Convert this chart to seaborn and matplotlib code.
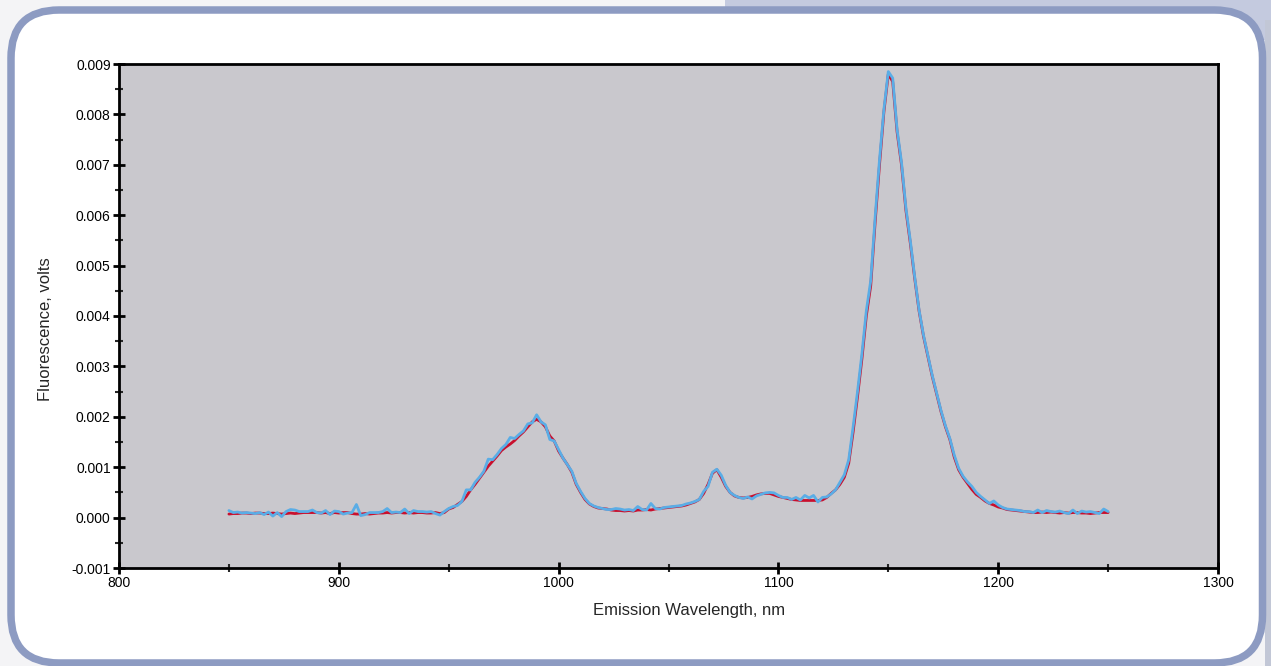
import numpy as np
import pandas as pd
import matplotlib
matplotlib.use("Agg")
import matplotlib.pyplot as plt
import seaborn as sns
from matplotlib.patches import FancyBboxPatch, Rectangle
from matplotlib.ticker import MultipleLocator, FormatStrFormatter

# longitudes de onda (nm), paso de 2 nm
wavelength = np.arange(850, 1252, 2)

# señal suavizada (roja), en mV
red_mv = [
    0.07, 0.08, 0.08, 0.09, 0.09, 0.08, 0.09, 0.09, 0.08, 0.08,   # 850
    0.09, 0.08, 0.07, 0.08, 0.09, 0.08, 0.09, 0.10, 0.10, 0.10,   # 870
    0.10, 0.09, 0.10, 0.08, 0.10, 0.09, 0.10, 0.10, 0.08, 0.07,   # 890
    0.07, 0.08, 0.07, 0.08, 0.09, 0.09, 0.10, 0.09, 0.10, 0.10,   # 910
    0.09, 0.10, 0.09, 0.10, 0.10, 0.09, 0.09, 0.10, 0.08, 0.10,   # 930
    0.17, 0.20, 0.26, 0.32, 0.42, 0.55, 0.66, 0.78, 0.90, 1.02,   # 950
    1.12, 1.22, 1.33, 1.40, 1.46, 1.53, 1.62, 1.70, 1.80, 1.90,   # 970
    1.95, 1.90, 1.80, 1.62, 1.52, 1.32, 1.18, 1.05, 0.90, 0.66,   # 990
    0.50, 0.36, 0.27, 0.22, 0.19, 0.18, 0.17, 0.15, 0.14, 0.14,   # 1010
    0.13, 0.14, 0.13, 0.15, 0.15, 0.16, 0.15, 0.17, 0.18, 0.19,   # 1030
    0.20, 0.21, 0.22, 0.23, 0.25, 0.28, 0.31, 0.36, 0.48, 0.66,   # 1050
    0.88, 0.95, 0.80, 0.62, 0.50, 0.43, 0.40, 0.39, 0.40, 0.42,   # 1070
    0.45, 0.47, 0.48, 0.48, 0.45, 0.42, 0.40, 0.38, 0.36, 0.35,   # 1090
    0.34, 0.34, 0.34, 0.34, 0.34, 0.35, 0.40, 0.48, 0.55, 0.66,   # 1110
    0.80, 1.08, 1.70, 2.40, 3.15, 4.00, 4.60, 5.85, 7.00, 8.05,   # 1130
    8.80, 8.65, 7.65, 7.00, 6.10, 5.45, 4.75, 4.10, 3.60, 3.20,   # 1150
    2.80, 2.45, 2.10, 1.80, 1.55, 1.20, 0.95, 0.80, 0.68, 0.56,   # 1170
    0.46, 0.40, 0.33, 0.28, 0.25, 0.21, 0.19, 0.16, 0.15, 0.14,   # 1190
    0.13, 0.12, 0.11, 0.10, 0.10, 0.11, 0.10, 0.11, 0.10, 0.09,   # 1210
    0.10, 0.09, 0.10, 0.10, 0.09, 0.09, 0.08, 0.09, 0.10, 0.10,   # 1230
    0.10,                                                         # 1250
]

# señal cruda (azul), en mV
blue_mv = [
    0.14, 0.10, 0.11, 0.09, 0.10, 0.09, 0.08, 0.10, 0.06, 0.11,   # 850
    0.03, 0.10, 0.02, 0.12, 0.16, 0.15, 0.12, 0.12, 0.12, 0.15,   # 870
    0.10, 0.09, 0.14, 0.06, 0.13, 0.12, 0.07, 0.09, 0.10, 0.26,   # 890
    0.04, 0.06, 0.10, 0.10, 0.10, 0.12, 0.18, 0.10, 0.11, 0.10,   # 910
    0.17, 0.08, 0.14, 0.12, 0.12, 0.11, 0.12, 0.08, 0.05, 0.12,   # 930
    0.18, 0.22, 0.24, 0.32, 0.55, 0.55, 0.70, 0.80, 0.92, 1.16,   # 950
    1.15, 1.25, 1.37, 1.45, 1.59, 1.57, 1.65, 1.72, 1.86, 1.88,   # 970
    2.04, 1.90, 1.84, 1.55, 1.52, 1.35, 1.18, 1.05, 0.92, 0.68,   # 990
    0.52, 0.38, 0.28, 0.23, 0.20, 0.18, 0.16, 0.16, 0.18, 0.17,   # 1010
    0.15, 0.16, 0.14, 0.22, 0.16, 0.15, 0.28, 0.18, 0.17, 0.20,   # 1030
    0.21, 0.22, 0.23, 0.24, 0.27, 0.29, 0.32, 0.36, 0.52, 0.62,   # 1050
    0.90, 0.96, 0.84, 0.64, 0.50, 0.44, 0.40, 0.38, 0.41, 0.37,   # 1070
    0.43, 0.46, 0.49, 0.50, 0.49, 0.44, 0.40, 0.40, 0.36, 0.40,   # 1090
    0.35, 0.44, 0.39, 0.44, 0.31, 0.40, 0.41, 0.47, 0.55, 0.70,   # 1110
    0.85, 1.15, 1.80, 2.50, 3.25, 4.10, 4.70, 5.95, 7.10, 8.10,   # 1130
    8.85, 8.72, 7.70, 7.05, 6.15, 5.50, 4.78, 4.12, 3.62, 3.22,   # 1150
    2.82, 2.47, 2.12, 1.82, 1.57, 1.24, 0.98, 0.82, 0.71, 0.62,   # 1170
    0.50, 0.42, 0.35, 0.28, 0.33, 0.25, 0.20, 0.17, 0.16, 0.15,   # 1190
    0.14, 0.12, 0.12, 0.10, 0.15, 0.10, 0.14, 0.12, 0.11, 0.13,   # 1210
    0.10, 0.08, 0.15, 0.08, 0.13, 0.11, 0.12, 0.10, 0.08, 0.17,   # 1230
    0.12,                                                         # 1250
]

series_names = ["suavizada", "cruda"]
series_colors = ["#c8102e", "#5aade6"]

df = pd.DataFrame({
    "wavelength": np.concatenate([wavelength, wavelength]),
    "volts": np.array(red_mv + blue_mv) / 1000.0,
    "serie": [series_names[0]] * len(red_mv) + [series_names[1]] * len(blue_mv),
})

sns.set_theme(style="ticks")
plt.rcParams["font.family"] = ["Liberation Sans", "DejaVu Sans"]
plt.rcParams["axes.unicode_minus"] = False

W, H = 1271, 666
fig = plt.figure(figsize=(W / 100, H / 100), dpi=100)
fig.patch.set_facecolor("#f4f4f6")

# marco redondeado de fondo (coordenadas en píxeles)
bg = fig.add_axes([0, 0, 1, 1], zorder=0)
bg.set_xlim(0, W)
bg.set_ylim(H, 0)
bg.axis("off")
bg.add_patch(Rectangle((725, 0), W - 725, 40, facecolor="#c4cadf", edgecolor="none"))
bg.add_patch(Rectangle((1265, 20), 6, H - 20, facecolor="#c2c7d6", edgecolor="none"))
bg.add_patch(FancyBboxPatch((11, 10), 1251.5, 653,
                            boxstyle="round,pad=0,rounding_size=48",
                            facecolor="white", edgecolor="#8d9bc2", linewidth=5.4))

ax = fig.add_axes([119 / W, 1 - 568 / H, 1099 / W, 504 / H], zorder=1)
ax.set_facecolor("#c9c8cd")

sns.lineplot(data=df, x="wavelength", y="volts", hue="serie",
             palette=series_colors, linewidth=2.0, legend=False, ax=ax)

ax.set_xlim(800, 1300)
ax.set_ylim(-0.001, 0.009)
ax.xaxis.set_major_locator(MultipleLocator(100))
ax.xaxis.set_minor_locator(MultipleLocator(50))
ax.yaxis.set_major_locator(MultipleLocator(0.001))
ax.yaxis.set_minor_locator(MultipleLocator(0.0005))
ax.yaxis.set_major_formatter(FormatStrFormatter("%.3f"))

for s in ax.spines.values():
    s.set_visible(True)
    s.set_color("black")
    s.set_linewidth(2.0)

ax.tick_params(which="major", direction="inout", length=8, width=2,
               labelsize=10, colors="black", pad=2)
ax.tick_params(which="minor", direction="inout", length=6, width=1.5)
ax.tick_params(top=False, right=False, which="both")

ax.set_xlabel("Emission Wavelength, nm", fontsize=12)
ax.set_ylabel("Fluorescence, volts", fontsize=12)
# posiciones de las etiquetas como en la captura original
ax.xaxis.set_label_coords((689 - 119) / 1099, (568 - 610) / 504)
ax.yaxis.set_label_coords((46 - 119) / 1099, (568 - 329) / 504)
ax.xaxis.label.set_va("center")
ax.yaxis.label.set_va("center")

fig.savefig("out.png", dpi=100)
